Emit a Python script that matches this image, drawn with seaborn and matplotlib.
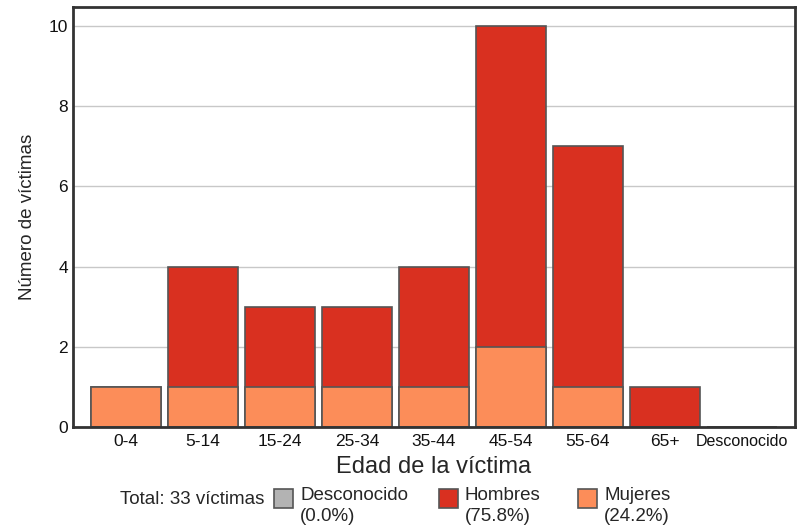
import matplotlib
matplotlib.use("Agg")
import matplotlib.pyplot as plt
from matplotlib.patches import Rectangle
import seaborn as sns
import pandas as pd

# data
grupos = ["0-4", "5-14", "15-24", "25-34", "35-44", "45-54", "55-64", "65+", "Desconocido"]
mujeres = [1, 1, 1, 1, 1, 2, 1, 0, 0]
hombres = [0, 3, 2, 2, 3, 8, 6, 1, 0]
desconocido = [0, 0, 0, 0, 0, 0, 0, 0, 0]

ROJO = "#d93020"
NARANJA = "#fc8d59"
GRIS = "#b3b3b3"
BORDE = "#555555"

sns.set_style("white")
plt.rcParams["font.family"] = ["Liberation Sans", "DejaVu Sans"]

df = pd.DataFrame({"grupo": grupos, "mujeres": mujeres, "hombres": hombres,
                   "desconocido": desconocido})
df["total"] = df["mujeres"] + df["hombres"] + df["desconocido"]
total = int(df["total"].sum())

fig = plt.figure(figsize=(8.01, 5.27), dpi=100)
ax = fig.add_axes([0.0911, 0.1898, 0.9014, 0.7969])

ax.yaxis.grid(True, color="#c8c8c8", linewidth=1)
ax.set_axisbelow(True)

sns.barplot(data=df, x="grupo", y="total", color=ROJO, saturation=1, width=0.91,
            edgecolor=BORDE, linewidth=1.2, ax=ax)
sns.barplot(data=df, x="grupo", y="mujeres", color=NARANJA, saturation=1, width=0.91,
            edgecolor=BORDE, linewidth=1.2, ax=ax)

ax.set_xlim(-0.69, len(grupos) - 1 + 0.69)
ax.set_ylim(0, 10.47)
ax.set_yticks([0, 2, 4, 6, 8, 10])
ax.tick_params(length=0, labelsize=12.5, colors="#111111")
ax.tick_params(axis="x", pad=5)
for lbl in ax.get_xticklabels():
    if lbl.get_text() == "Desconocido":
        lbl.set_fontsize(11.5)
ax.set_xlabel("Edad de la víctima", fontsize=17, labelpad=5)
ax.set_ylabel("Número de víctimas", fontsize=13.5, labelpad=9)
for s in ax.spines.values():
    s.set_color("#333333")
    s.set_linewidth(2)

# leyenda inferior
fig.text(120 / 801, 1 - 500 / 527, f"Total: {total} víctimas", fontsize=13.5,
         va="center", ha="left")
entradas = [("Desconocido", sum(desconocido), GRIS, 274),
            ("Hombres", sum(hombres), ROJO, 439),
            ("Mujeres", sum(mujeres), NARANJA, 578)]
for nombre, n, color, x0 in entradas:
    fig.patches.append(Rectangle((x0 / 801, 1 - 508 / 527), 19 / 801, 19 / 527,
                                 transform=fig.transFigure, facecolor=color,
                                 edgecolor=BORDE, linewidth=1.2))
    fig.text((x0 + 26) / 801, 1 - 487 / 527,
             f"{nombre}\n({100 * n / total:.1f}%)", fontsize=13.5,
             va="top", ha="left", linespacing=1.3)

plt.savefig("out.png", dpi=100)
plt.close()
